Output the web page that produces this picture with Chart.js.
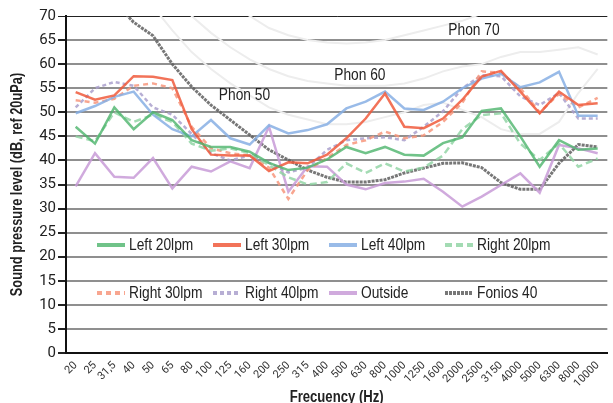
<!DOCTYPE html>
<html>
<head>
<meta charset="utf-8">
<script src="https://cdn.jsdelivr.net/npm/chart.js@4.4.1/dist/chart.umd.min.js"></script>
<style>
  html, body { margin: 0; padding: 0; background: #fff; }
</style>
</head>
<body>
<canvas id="chart" width="613" height="403"></canvas>
<script>
const frequencies = ['20', '25', '31,5', '40', '50', '65', '80', '100', '125', '160', '200', '250', '315', '400',
    '500', '630', '800', '1000', '1250', '1600', '2000', '2500', '3150', '4000', '5000', '6300', '8000', '10000'];

const left20 = [47, 43.5, 51, 46.5, 50, 48.4, 44.2, 42.8, 42.8, 41.8, 39.5, 38, 38.5, 40.2, 42.8, 41.5, 42.8, 41.2, 41, 43.6, 44.8, 50.3, 50.8, 45, 38.7, 44.2, 42.2, 42.5];
const left30 = [54.2, 52.6, 53.5, 57.5, 57.4, 56.7, 46.5, 41.2, 41, 41, 37.8, 39.6, 39.4, 41.2, 44.6, 48.7, 53.9, 47, 46.7, 48.7, 52.6, 57.4, 58.6, 54.3, 49.8, 54.3, 51.5, 51.9];
const left40 = [49.8, 51.3, 53.2, 54.3, 49.5, 46.5, 45, 48.4, 44.6, 43.3, 47.3, 45.6, 46.3, 47.5, 50.8, 52.2, 54.3, 50.8, 50.5, 52.2, 55, 57, 58, 55.2, 56.2, 58.4, 49.3, 49.3];
const right20 = [45, 44, 50, 48, 49.5, 48, 43.5, 42, 42.5, 41.5, 39, 36.5, 35, 35.5, 39.4, 37.4, 39.4, 37.7, 38.5, 41, 46.5, 49.4, 49.8, 43.5, 40.1, 43.5, 38.7, 40.4];
const right30 = [52.5, 52, 52.8, 55.5, 56, 55, 47, 42.5, 41.5, 41, 38.5, 32, 38, 40.5, 43.2, 44.2, 46, 44.6, 45.2, 48, 52, 58.5, 58.2, 55, 50, 53.8, 51, 53];
const right40 = [51, 55, 56.3, 55.5, 51, 49.5, 45.5, 41.5, 40, 41, 39.5, 37.5, 38.5, 42.2, 44.2, 44.6, 44.8, 44.2, 47, 50.2, 55, 57.7, 57.5, 53.3, 51.5, 54, 48.7, 48.7];
const outside = [34.6, 41.5, 36.6, 36.4, 40.5, 34.2, 38.7, 37.7, 39.8, 38.4, 47, 33.5, 38.8, 38.7, 35, 34, 35.3, 35.6, 36.2, 33.5, 30.4, 32.5, 34.9, 37.3, 33.3, 43.2, 42.5, 41.5];
const fonios40 = [81, 77, 73, 68.7, 65.9, 60, 55.3, 51.5, 48.4, 45.3, 42.2, 40.1, 38, 36.5, 35.5, 35.5, 36, 37.4, 38.4, 39.4, 39.5, 38.5, 35.4, 34, 34, 39.4, 43.3, 42.8];

// faint equal-loudness curves behind the data
const phon50 = [null, null, null, 79, 72, 67, 62.5, 59, 56, 53.5, 51, 49.5, 48.5, 47.5, 47.5, 48, 49, 50, 51.5, 52, 50.5, 49, 46.5, 45.5, 45.5, 48, 54, 59];
const phon60 = [null, null, null, null, null, 76, 70, 66.5, 63.5, 61, 59, 57.5, 56.5, 56, 55.5, 55.5, 55.5, 56, 57, 58.5, 59.5, 60, 61.5, 62.5, 62.5, 63, 63.5, 62];
const phon70 = [null, null, null, null, null, null, null, null, 72.5, 70, 67.5, 66, 65, 64.5, 64.3, 64.5, 65, 66, 67, 68, 69, 70.5, 72, 73, 74, 75, 76, 77];

const phonLabels = ['Phon 50', 'Phon 60', 'Phon 70'];
const phonLabelAt = [[8.73, 53.4], [14.7, 57.7], [20.6, 66.9]];

const TICK_FONT = 'Roboto, "Liberation Sans", sans-serif';

function series(label, data, color, dash, width) {
    return {
        label,
        data,
        borderColor: color,
        backgroundColor: color,
        borderWidth: width || 2.5,
        borderDash: dash || [],
        pointRadius: 0,
        tension: 0,
        fill: false
    };
}

function phonCurve(data) {
    const ds = series('', data, '#ededed', [], 2);
    ds.isPhon = true;
    ds.order = 10;
    return ds;
}

const datasets = [
    series('Left 20lpm', left20, 'rgba(76,180,108,0.8)'),
    series('Left 30lpm', left30, 'rgba(240,90,60,0.85)'),
    series('Left 40lpm', left40, 'rgba(135,175,228,0.85)'),
    series('Right 20lpm', right20, 'rgba(140,210,160,0.8)', [7, 4]),
    series('Right 30lpm', right30, 'rgba(247,150,125,0.85)', [5, 4]),
    series('Right 40lpm', right40, 'rgba(170,160,205,0.85)', [4, 3]),
    series('Outside', outside, 'rgba(200,155,215,0.85)'),
    series('Fonios 40', fonios40, 'rgba(95,95,95,0.85)', [3, 1], 3),
    phonCurve(phon50),
    phonCurve(phon60),
    phonCurve(phon70)
];

// condensed text, like the narrow font of the original
function narrowText(ctx, text, x, y, opts) {
    ctx.save();
    ctx.translate(x, y);
    if (opts.vertical) ctx.rotate(-Math.PI / 2);
    ctx.scale(opts.squeeze || 0.86, 1);
    ctx.font = (opts.bold ? 'bold ' : '') + (opts.size || 16) + 'px "Liberation Sans", Arial, sans-serif';
    ctx.fillStyle = '#222';
    ctx.textAlign = opts.align || 'left';
    ctx.textBaseline = 'middle';
    ctx.fillText(text, 0, 0);
    ctx.restore();
}

// legend inside the plot (2 rows of 4), phon labels and axis titles
const extras = {
    id: 'extras',
    afterDatasetsDraw(chart) {
        const ctx = chart.ctx;
        const items = chart.data.datasets.filter(d => !d.isPhon);
        const colX = [97, 213, 329, 445];
        const rowY = [245, 293];
        ctx.save();
        items.forEach((d, i) => {
            const x = colX[i % 4];
            const y = rowY[Math.floor(i / 4)];
            ctx.strokeStyle = d.borderColor;
            ctx.lineWidth = 4;
            ctx.setLineDash(d.borderDash);
            ctx.beginPath();
            ctx.moveTo(x, y);
            ctx.lineTo(x + 28, y);
            ctx.stroke();
            ctx.setLineDash([]);
            narrowText(ctx, d.label, x + 32, y + 1, {});
        });
        ctx.restore();

        const xs = chart.scales.x, ys = chart.scales.y;
        const step = xs.getPixelForValue(1) - xs.getPixelForValue(0);
        phonLabels.forEach((t, i) => {
            const [c, v] = phonLabelAt[i];
            narrowText(ctx, t, xs.getPixelForValue(0) + c * step, ys.getPixelForValue(v), { align: 'center' });
        });

        const area = chart.chartArea;
        narrowText(ctx, 'Sound pressure level (dB, ref 20uPa)', 17.5, (area.top + area.bottom) / 2,
            { bold: true, vertical: true, align: 'center', squeeze: 0.8 });
        narrowText(ctx, 'Frecuency (Hz)', (area.left + area.right) / 2, 398,
            { bold: true, align: 'center', squeeze: 0.82 });
    }
};

new Chart(document.getElementById('chart'), {
    type: 'line',
    data: { labels: frequencies, datasets },
    options: {
        responsive: false,
        animation: false,
        layout: { padding: { top: 16, right: 0, left: 0, bottom: 0 } },
        plugins: {
            legend: { display: false },
            tooltip: { enabled: false }
        },
        scales: {
            x: {
                offset: true,
                grid: { display: false, drawTicks: false },
                border: { display: true, color: '#111', width: 2 },
                ticks: {
                    autoSkip: false,
                    maxRotation: 45,
                    minRotation: 45,
                    padding: 6,
                    color: '#333',
                    font: { family: TICK_FONT, size: 11 }
                },
                afterFit(scale) { scale.height = 50; }
            },
            y: {
                min: 0,
                max: 70,
                ticks: {
                    stepSize: 5,
                    padding: 2,
                    color: '#222',
                    font: { family: TICK_FONT, size: 15 }
                },
                grid: {
                    color: c => c.tick && c.tick.value === 70 ? '#222' : '#8f8f8f',
                    lineWidth: c => c.tick && c.tick.value === 70 ? 1 : 2,
                    tickColor: '#222',
                    tickLength: 8
                },
                border: { display: true, color: '#111', width: 2 },
                afterFit(scale) { scale.width = 66; }
            }
        }
    },
    plugins: [extras]
});
</script>
</body>
</html>
